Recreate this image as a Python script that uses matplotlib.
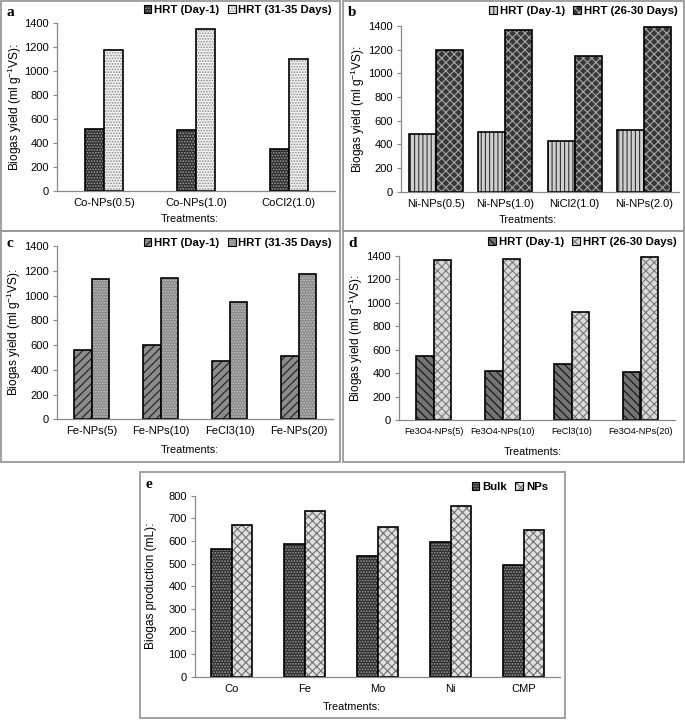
import matplotlib
matplotlib.use('Agg')
import matplotlib.pyplot as plt
import numpy as np
from matplotlib.patches import Patch, Rectangle

plt.rcParams['font.family'] = ['Liberation Sans', 'DejaVu Sans']
plt.rcParams['mathtext.fontset'] = 'custom'
plt.rcParams['mathtext.rm'] = 'Liberation Sans'
plt.rcParams['hatch.linewidth'] = 0.8

# ---- data ----
a_cats = ['Co-NPs(0.5)', 'Co-NPs(1.0)', 'CoCl2(1.0)']
a_day1 = [510, 505, 345]
a_late = [1175, 1350, 1100]

b_cats = ['Ni-NPs(0.5)', 'Ni-NPs(1.0)', 'NiCl2(1.0)', 'Ni-NPs(2.0)']
b_day1 = [488, 505, 428, 520]
b_late = [1195, 1370, 1148, 1392]

c_cats = ['Fe-NPs(5)', 'Fe-NPs(10)', 'FeCl3(10)', 'Fe-NPs(20)']
c_day1 = [558, 600, 474, 510]
c_late = [1133, 1145, 948, 1170]

d_cats = ['Fe3O4-NPs(5)', 'Fe3O4-NPs(10)', 'FeCl3(10)', 'Fe3O4-NPs(20)']
d_day1 = [549, 420, 475, 412]
d_late = [1362, 1378, 923, 1390]

e_cats = ['Co', 'Fe', 'Mo', 'Ni', 'CMP']
e_bulk = [564, 586, 532, 596, 493]
e_nps = [672, 731, 662, 753, 650]

W, H = 685, 721
fig = plt.figure(figsize=(W / 100, H / 100), dpi=100)


def fx(x):
    return x / W


def fy(y):
    return 1 - y / H


def px_axes(x0, y0, x1, y1):
    return fig.add_axes([fx(x0), fy(y1), (x1 - x0) / W, (y1 - y0) / H])


def box(x0, y0, x1, y1):
    fig.patches.append(Rectangle((fx(x0), fy(y1)), (x1 - x0) / W, (y1 - y0) / H,
                                 transform=fig.transFigure, fill=False,
                                 edgecolor='#9a9a9a', linewidth=1.3))


def hbars(ax, x, h, w, style):
    face, hatch, hcol = style
    ax.bar(x, h, w, color=face, edgecolor=hcol, hatch=hatch, linewidth=0)
    ax.bar(x, h, w, fill=False, edgecolor='black', linewidth=1.2)


def handle(style):
    face, hatch, hcol = style
    return (Patch(facecolor=face, edgecolor=hcol, hatch=hatch, linewidth=0),
            Patch(fill=False, edgecolor='black', linewidth=0.8))


def panel(boxpx, axpx, letter, cats, s1, s2, st1, st2, names, width,
          ymax, ystep, ylabel, ylab_x, xlab_xy, leg_xy, xfs=8):
    box(*boxpx)
    ax = px_axes(*axpx)
    x = np.arange(len(cats))
    hbars(ax, x - width / 2, s1, width, st1)
    hbars(ax, x + width / 2, s2, width, st2)
    ax.set_xlim(-0.5, len(cats) - 0.5)
    ax.set_ylim(0, ymax)
    ax.set_yticks(np.arange(0, ymax + 1, ystep))
    ax.set_xticks(x)
    ax.set_xticklabels(cats, fontsize=xfs)
    ax.tick_params(axis='x', length=0, pad=5)
    ax.tick_params(axis='y', labelsize=8, length=3, color='#888888', pad=3)
    for sp in ['top', 'right']:
        ax.spines[sp].set_visible(False)
    for sp in ['left', 'bottom']:
        ax.spines[sp].set_color('#888888')
        ax.spines[sp].set_linewidth(0.9)
    fig.text(fx(xlab_xy[0]), fy(xlab_xy[1]), 'Treatments:', fontsize=7.8,
             ha='center', va='center')
    fig.text(fx(ylab_x), fy((axpx[1] + axpx[3]) / 2), ylabel, fontsize=8.6,
             rotation=90, ha='center', va='center')
    fig.legend([handle(st1), handle(st2)], names, ncol=2, frameon=False,
               loc='upper right', bbox_to_anchor=(fx(leg_xy[0]), fy(leg_xy[1])),
               prop={'size': 8.2, 'weight': 'bold'}, handlelength=0.7, handleheight=0.7,
               handletextpad=0.25, columnspacing=0.7, borderpad=0, borderaxespad=0)
    fig.text(fx(boxpx[0] + 5), fy(boxpx[1] + 12), letter, fontsize=11,
             fontweight='bold', family='Liberation Serif', va='center', ha='left')
    return ax


ylab = r'Biogas yield (ml g$^{\mathregular{-1}}$VS):'

panel((1, 1, 340, 231), (57.5, 22.7, 335, 190.7), 'a', a_cats, a_day1, a_late,
      ('#2e2e2e', '......', '#a0a0a0'), ('#f2f2f2', '......', '#8a8a8a'),
      ['HRT (Day-1)', 'HRT (31-35 Days)'], 0.207, 1400, 200, ylab, 15, (190, 219), (332, 5))

panel((343, 1, 684, 231), (401, 26, 679, 191.7), 'b', b_cats, b_day1, b_late,
      ('#cfcfcf', '||||', '#333333'), ('#383838', 'xxxx', '#a8a8a8'),
      ['HRT (Day-1)', 'HRT (26-30 Days)'], 0.39, 1400, 200, ylab, 358, (528, 220), (678, 6))

panel((1, 231, 340, 462), (57, 246, 333, 419.3), 'c', c_cats, c_day1, c_late,
      ('#8c8c8c', '////', '#1e1e1e'), ('#8a8a8a', '......', '#c4c4c4'),
      ['HRT (Day-1)', 'HRT (31-35 Days)'], 0.25, 1400, 200, ylab, 14, (190, 450), (332, 238))

panel((343, 231, 684, 462), (399, 256, 675, 420), 'd', d_cats, d_day1, d_late,
      ('#747474', '\\\\\\\\', '#111111'), ('#dadada', 'xxxx', '#7a7a7a'),
      ['HRT (Day-1)', 'HRT (26-30 Days)'], 0.26, 1400, 200, ylab, 356, (533, 452), (677, 237),
      xfs=6.6)

panel((140, 472, 565, 718), (195, 495.7, 560, 676.7), 'e', e_cats, e_bulk, e_nps,
      ('#303030', '......', '#9c9c9c'), ('#e0e0e0', 'xxxx', '#707070'),
      ['Bulk', 'NPs'], 0.285, 800, 100, 'Biogas production (mL):', 151, (352, 707), (548, 482))

fig.savefig('out.png', dpi=100)
